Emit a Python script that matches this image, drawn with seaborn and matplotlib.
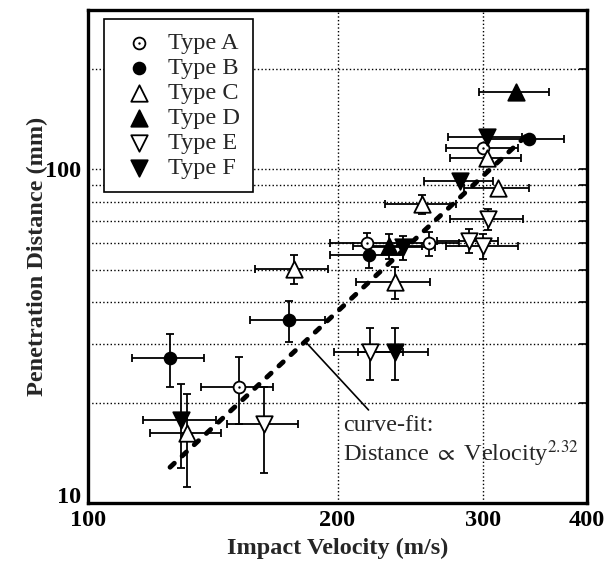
import numpy as np
import pandas as pd
import matplotlib
matplotlib.use("Agg")
import matplotlib.pyplot as plt
import matplotlib.ticker as mticker
import seaborn as sns

# measured points, one list per type: velocity, distance and their half error bars
type_a_x = [300, 217, 258, 152]
type_a_y = [116, 60, 60, 22.3]
type_a_xerr = [30, 21, 22, 15]
type_a_yerr = [0, 4.5, 5, 5]

type_b_x = [340, 218, 175, 125.6]
type_b_y = [123, 55.5, 35.4, 27.2]
type_b_xerr = [35, 22, 18, 12.5]
type_b_yerr = [0, 5, 5, 5]

type_c_x = [303, 312, 253, 177, 234.5, 131.7]
type_c_y = [108, 88, 78.5, 50.4, 45.8, 16.2]
type_c_xerr = [30, 28, 25, 18, 24, 13]
type_c_yerr = [0, 0, 5, 5, 5, 5]

type_d_x = [328, 231]
type_d_y = [170, 59]
type_d_xerr = [32, 22]
type_d_yerr = [0, 5]

type_e_x = [304, 288, 300, 219, 163]
type_e_y = [70.8, 61, 59, 28.4, 17.3]
type_e_xerr = [31, 24, 30, 21, 16]
type_e_yerr = [5, 5, 5, 5, 5]

type_f_x = [303, 281, 240, 234.5, 129.6]
type_f_y = [125, 92, 58.3, 28.4, 17.7]
type_f_xerr = [31, 27, 22, 23, 13]
type_f_yerr = [0, 0, 5, 5, 5]

# ends of the power-law fit (straight on log-log axes)
fit_x = [125.6, 339]
fit_y = [12.8, 127]

type_names = ["Type A", "Type B", "Type C", "Type D", "Type E", "Type F"]

frames = []
for name, xs, ys, xe, ye in zip(
        type_names,
        [type_a_x, type_b_x, type_c_x, type_d_x, type_e_x, type_f_x],
        [type_a_y, type_b_y, type_c_y, type_d_y, type_e_y, type_f_y],
        [type_a_xerr, type_b_xerr, type_c_xerr, type_d_xerr, type_e_xerr, type_f_xerr],
        [type_a_yerr, type_b_yerr, type_c_yerr, type_d_yerr, type_e_yerr, type_f_yerr]):
    frames.append(pd.DataFrame({"type": name, "velocity": xs, "distance": ys,
                                "xerr": xe, "yerr": ye}))
df = pd.concat(frames, ignore_index=True)

styles = {"Type A": ("o", "white", 72),
          "Type B": ("o", "black", 72),
          "Type C": ("^", "white", 140),
          "Type D": ("^", "black", 140),
          "Type E": ("v", "white", 140),
          "Type F": ("v", "black", 140)}

sns.set_theme(style="white")
plt.rcParams["font.family"] = ["Liberation Serif", "DejaVu Serif"]
plt.rcParams["mathtext.fontset"] = "stix"

fig = plt.figure(figsize=(6.04, 5.66), dpi=100)
ax = fig.add_axes([0.1457, 0.1113, 0.8262, 0.871])
ax.set_xscale("log")
ax.set_yscale("log")

ax.errorbar(df["velocity"], df["distance"], xerr=df["xerr"], yerr=df["yerr"],
            fmt="none", ecolor="black", elinewidth=1.3, capsize=3.2, capthick=1.3, zorder=2)

ax.plot(fit_x, fit_y, color="black", lw=3.5, dashes=(1.2, 2.2),
        dash_capstyle="round", zorder=4)

handles = []
for name in type_names:
    marker, face, size = styles[name]
    sub = df[df["type"] == name]
    sns.scatterplot(data=sub, x="velocity", y="distance", marker=marker, s=size,
                    color=face, edgecolor="black", linewidth=1.3, ax=ax, zorder=5,
                    legend=False)
    h = ax.scatter([], [], marker=marker, s=size, facecolor=face,
                   edgecolor="black", linewidth=1.3)
    if name == "Type A":
        sns.scatterplot(data=sub, x="velocity", y="distance", marker="o", s=3,
                        color="black", edgecolor="black", linewidth=0, ax=ax,
                        zorder=6, legend=False)
        dot = ax.scatter([], [], marker="o", s=3, color="black", linewidth=0)
        handles.append((h, dot))
    else:
        handles.append(h)

ax.set_xlim(100, 400)
ax.set_ylim(10, 300)

ax.xaxis.set_major_locator(mticker.FixedLocator([100, 200, 300, 400]))
ax.xaxis.set_major_formatter(mticker.FixedFormatter(["100", "200", "300", "400"]))
ax.xaxis.set_minor_locator(mticker.NullLocator())
ax.yaxis.set_major_locator(mticker.FixedLocator([10, 100]))
ax.yaxis.set_major_formatter(mticker.FixedFormatter(["10", "100"]))
ax.yaxis.set_minor_locator(mticker.FixedLocator([20, 30, 40, 50, 60, 70, 80, 90, 200]))
ax.yaxis.set_minor_formatter(mticker.NullFormatter())

ax.grid(True, which="both", axis="y", linestyle=":", color="black", lw=1.0)
ax.grid(True, which="major", axis="x", linestyle=":", color="black", lw=1.0)

ax.tick_params(axis="both", which="both", direction="in", top=False, right=True,
               length=6, width=1.2, colors="black", labelsize=17.5, pad=5)
ax.tick_params(axis="x", which="major", length=0, pad=5)
for lab in ax.get_xticklabels() + ax.get_yticklabels():
    lab.set_fontweight("bold")
# the bottom "10" sits a little above the axis corner
ax.get_yticklabels()[0].set_verticalalignment("baseline")

for sp in ax.spines.values():
    sp.set_linewidth(2.4)
    sp.set_color("black")

ax.set_xlabel("Impact Velocity (m/s)", fontsize=17.5, fontweight="bold", labelpad=5)
ax.set_ylabel("Penetration Distance (mm)", fontsize=17.5, fontweight="bold", labelpad=-2)

leg = ax.legend(handles, type_names, loc="upper left", bbox_to_anchor=(0.032, 0.982),
                borderaxespad=0, fontsize=17.5, frameon=True, fancybox=False,
                edgecolor="black", framealpha=1, labelspacing=0.12, handlelength=1.78,
                handletextpad=0.3, borderpad=0.55)
leg.get_frame().set_linewidth(1.2)
leg.set_zorder(10)

ax.annotate("", xy=(183, 30.4), xytext=(218, 19.0),
            arrowprops=dict(arrowstyle="-", color="black", lw=1.2, shrinkA=0, shrinkB=0))
ax.text(203, 18.4, "curve-fit:\nDistance $\\propto$ Velocity$^{2.32}$", fontsize=17.5,
        ha="left", va="top", linespacing=1.1)

fig.savefig("out.png", dpi=100)
